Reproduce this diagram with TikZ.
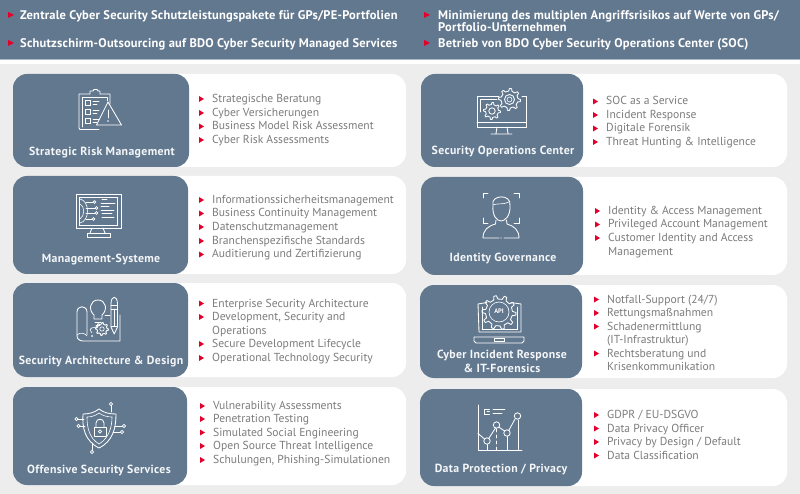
\documentclass[tikz,border=0pt]{standalone}
\usepackage{fontspec}
\setmainfont{PT Sans}
\newfontfamily\hdfont[LetterSpace=1.7]{PT Sans Bold}
\newfontfamily\labfont[LetterSpace=3]{PT Sans Bold}
\definecolor{slate}{HTML}{62788F}
\definecolor{pagebg}{HTML}{EDEDED}
\definecolor{bodytxt}{HTML}{7C7C7C}
\definecolor{redmark}{HTML}{E4002B}
\definecolor{soft}{HTML}{F4F6F8}
\definecolor{bandedge}{HTML}{A9B6C4}
\tikzset{
  x=1pt,y=-1pt,
  lin/.style={draw=white,line width=.85pt,line join=round,line cap=round},
  thinl/.style={draw=white,line width=.6pt,line cap=round},
  txt/.style={anchor=west,inner sep=0pt,text height=9pt,text depth=0pt,font=\fontsize{11.6}{13}\selectfont,text=bodytxt},
  hd/.style={anchor=west,inner sep=0pt,text height=9pt,text depth=0pt,font=\hdfont\fontsize{12.5}{13}\selectfont,text=white},
  lab/.style={anchor=center,inner sep=0pt,text height=9pt,text depth=0pt,font=\labfont\fontsize{11.8}{13}\selectfont,text=soft},
}
\newcommand\tri[3][1]{\fill[redmark] (#2,#3-3) -- (#2+5*#1,#3) -- (#2,#3+3) -- cycle;}
\newcommand\bit[4]{\tri{#2-13}{#3+1}\node[txt] (#1) at (#2,#3) {#4};}
\newcommand\card[6]{%
  \fill[white,rounded corners=14pt] (#1+10,#2) rectangle (#4,#5);
  \fill[slate,rounded corners=14pt] (#1,#2) rectangle (#3,#5);}
\newcommand\cog[5]{% x y outer inner teeth
  \draw[lin] ({#1+#3},#2)
   \foreach \k in {1,...,#5}{ -- ({#1+#3*cos((\k-1)*360/#5+90/#5)},{#2+#3*sin((\k-1)*360/#5+90/#5)})
    -- ({#1+#4*cos((\k-1)*360/#5+135/#5)},{#2+#4*sin((\k-1)*360/#5+135/#5)})
    -- ({#1+#4*cos((\k-1)*360/#5+315/#5)},{#2+#4*sin((\k-1)*360/#5+315/#5)})
    -- ({#1+#3*cos((\k-1)*360/#5+360/#5)},{#2+#3*sin((\k-1)*360/#5+360/#5)}) } -- cycle;}
\begin{document}
\begin{tikzpicture}
\useasboundingbox (0,0) rectangle (800,494);
\fill[white] (0,0) rectangle (800,494);
\fill[pagebg] (0,64) rectangle (800,494);
\fill[slate] (0,0) rectangle (800,59);
\fill[bandedge] (0,59) rectangle (800,60);
% header
\tri[1.2]{8}{15}\node[hd] (h1) at (20,15) {Zentrale Cyber Security Schutzleistungspakete für GPs/PE-Portfolien};
\tri[1.2]{8}{43}\node[hd] (h2) at (20,43) {Schutzschirm-Outsourcing auf BDO Cyber Security Managed Services};
\tri[1.2]{424}{15}\node[hd] (h3) at (438,15) {Minimierung des multiplen Angriffsrisikos auf Werte von GPs/};
\node[hd] (h3b) at (438,27) {Portfolio-Unternehmen};
\tri[1.2]{424}{43}\node[hd] (h4) at (438,43) {Betrieb von BDO Cyber Security Operations Center (SOC)};
% cards
\card{13}{74}{189}{406}{167}{}
\card{13}{176}{188}{406}{274}{}
\card{13}{283}{188}{406}{377}{}
\card{13}{387}{187}{406}{485}{}
\card{421}{74}{583}{787}{167}{}
\card{421}{177}{583}{787}{275}{}
\card{420}{285}{582}{787}{378}{}
\card{420}{389}{582}{787}{486}{}
% labels
\node[lab] (l1) at (102,151) {Strategic Risk Management};
\node[lab] (l2) at (101,258) {Management-Systeme};
\node[lab] (l3) at (101,360) {Security Architecture \& Design};
\node[lab] (l4) at (99,469) {Offensive Security Services};
\node[lab] (l5) at (503,150.5) {Security Operations Center};
\node[lab] (l6) at (503,257) {Identity Governance};
\node[lab] (l7) at (502,354) {Cyber Incident Response};
\node[lab] (l7b) at (502,368) {\& IT-Forensics};
\node[lab] (l8) at (501,468) {Data Protection / Privacy};
% lists left
\bit{a1}{212}{98}{Strategische Beratung}
\bit{a2}{212}{112}{Cyber Versicherungen}
\bit{a3}{212}{125.5}{Business Model Risk Assessment}
\bit{a4}{212}{139}{Cyber Risk Assessments}
\bit{b1}{212}{199}{Informationssicherheitsmanagement}
\bit{b2}{212}{212.5}{Business Continuity Management}
\bit{b3}{212}{226}{Datenschutzmanagement}
\bit{b4}{212}{240}{Branchenspezifische Standards}
\bit{b5}{212}{253.5}{Auditierung und Zertifizierung}
\bit{c1}{212}{302.5}{Enterprise Security Architecture}
\bit{c2}{212}{316}{Development, Security and}
\node[txt] (c2b) at (212,329.5) {Operations};
\bit{c3}{212}{343}{Secure Development Lifecycle}
\bit{c4}{212}{357}{Operational Technology Security}
\bit{d1}{213}{405}{Vulnerability Assessments}
\bit{d2}{213}{418}{Penetration Testing}
\bit{d3}{213}{431.5}{Simulated Social Engineering}
\bit{d4}{213}{445}{Open Source Threat Intelligence}
\bit{d5}{213}{459}{Schulungen, Phishing-Simulationen}
% lists right
\bit{e1}{606}{100.5}{SOC as a Service}
\bit{e2}{606}{114}{Incident Response}
\bit{e3}{606}{127.5}{Digitale Forensik}
\bit{e4}{606}{141}{Threat Hunting \& Intelligence}
\bit{f1}{608}{210}{Identity \& Access Management}
\bit{f2}{608}{223.5}{Privileged Account Management}
\bit{f3}{608}{237}{Customer Identity and Access}
\node[txt] (f3b) at (608,250.5) {Management};
\bit{g1}{607}{298.5}{Notfall-Support (24/7)}
\bit{g2}{607}{312}{Rettungsmaßnahmen}
\bit{g3}{607}{325.5}{Schadenermittlung}
\node[txt] (g3b) at (607,339) {(IT-Infrastruktur)};
\bit{g4}{607}{352.5}{Rechtsberatung und}
\node[txt] (g4b) at (607,366) {Krisenkommunikation};
\bit{k1}{607}{414}{GDPR / EU-DSGVO}
\bit{k2}{607}{427.5}{Data Privacy Officer}
\bit{k3}{607}{441}{Privacy by Design / Default}
\bit{k4}{607}{454.5}{Data Classification}
% icon 1: clipboard and warning
\draw[lin] (99,129.5) -- (80,129.5) -- (79,128) -- (79,94) -- (90,94) (100,94) -- (110,94) -- (110,104);
\draw[lin] (82,127) -- (82,97) -- (107,97) -- (107,101);
\draw[lin] (90,94) -- (90,91) -- (93,91) -- (94,89.5) -- (97,89.5) -- (98,91) -- (100,91) -- (100,94);
\foreach \yy in {100,109,118}{\draw[thinl] (85,\yy) rectangle (90.5,\yy+5.5); \draw[thinl] (93,\yy+1) -- (99,\yy+1) (93,\yy+4) -- (97,\yy+4);}
\draw[lin] (108,102) -- (121.5,125) -- (96.5,125) -- cycle;
\draw[lin] (108,110) -- (108,118); \fill[white] (108,121) circle (.9);
% icon 2: monitor gears
\draw[lin] (499,96) -- (477,96) -- (477,127) -- (526,127) -- (526,96) -- (522,96);
\draw[lin] (480,112) -- (480,99) -- (497,99);
\draw[thinl] (477,122) -- (526,122);
\draw[lin] (497,127) -- (496,133.5) (507,127) -- (508,133.5) (491,134) -- (512,134);
\cog{509.5}{99.5}{11}{8.5}{8}
\draw[lin,fill=slate] (509.5,99.5) circle (5); \draw[thinl] (509.5,99.5) circle (2.5);
\cog{492}{111}{8.5}{6.5}{8}
\draw[lin] (492,111) circle (3.2);
% icon 3: monitor circuit
\draw[lin] (76,194) rectangle (121,228);
\draw[thinl] (79,197) rectangle (117,225);
\draw[lin] (92,228) -- (90,233) (103,228) -- (105,233);
\draw[lin] (87.5,233) rectangle (110,237);
\draw[thinl] (80,199) .. controls (90,201) and (90,221) .. (80,223);
\draw[thinl] (80,204) .. controls (85,206) and (85,216) .. (80,219);
\foreach \yy/\xx in {202/93,208/95,213/95,219/92}{\draw[thinl] (86,\yy) -- (\xx,\yy); \draw[thinl] (\xx+1.5,\yy) circle (1.4);}
\foreach \yy/\xa/\xb in {199/102/107,203/101/115,206/101/109,210/101/114,213/102/112,217/102/114}{\draw[thinl] (\xa,\yy) -- (\xb,\yy);}
% icon 4: identity
\draw[lin] (483,198) -- (483,193) -- (488,193) (514,193) -- (519,193) -- (519,198) (483,218) -- (483,223) -- (488,223) (514,223) -- (519,223) -- (519,218);
\draw[lin] (493,205) .. controls (490,195) and (512,193) .. (510,206) .. controls (510.5,216) and (505,221) .. (501,221) .. controls (497,221) and (492,216) .. (493,205);
\draw[thinl] (493,205) .. controls (497,203) and (503,205) .. (509,202);
\draw[lin] (496,220) -- (495.5,224) .. controls (488,226) and (483,230) .. (483,238) -- (499,238);
\draw[lin] (506.5,220) -- (507,224) .. controls (514,226) and (519,230) .. (519,238) -- (504,238);
\fill[white] (501,238) circle (.6);
% icon 5: architecture
\draw[lin] (87,335) -- (87,312) .. controls (87,305) and (77,305) .. (77,312) -- (77,335) .. controls (77,342) and (83,341) .. (87,341) -- (120,341) -- (120,315);
\draw[thinl] (77,335) .. controls (80,332) and (85,333) .. (87,336);
\draw[lin] (94,315) .. controls (88,310) and (90,300) .. (98,300) .. controls (106,300) and (108,310) .. (102,315) -- (102,319) -- (94,319) -- cycle;
\draw[thinl] (95,322) -- (101,322) (96,325) -- (100,325);
\draw[thinl] (98,326) .. controls (94,329) and (87,326) .. (92,333);
\draw[thinl] (105,315) -- (110,315);
\fill[white] (92,336) circle (1);
\cog{102}{329}{6.5}{5}{8}
\draw[thinl] (102,329) circle (2.2);
\draw[lin] (111,304) .. controls (111,295) and (117.5,295) .. (117.5,304) -- (117.5,327) -- (114.2,334) -- (111,327) -- cycle;
\draw[thinl] (111,305) -- (117.5,305) (111,309) -- (117.5,309) (111,326) -- (117.5,326);
\draw[thinl] (114.2,309) -- (114.2,326);
% icon 6: API laptop
\draw[lin] (482,332) -- (479,332) -- (478,304) -- (487,302.5) (511,302.5) -- (521,304) -- (521,332) -- (517,332) (482,332) -- (517,332);
\draw[thinl] (482,329) -- (517,329) -- (517,307) (482,329) -- (482,307);
\cog{499}{312.5}{17}{13.5}{10}
\draw[thinl] (499,312) circle (10);
\node[inner sep=0pt,font=\fontsize{6.5}{7}\bfseries\selectfont,text=white] (api) at (499,311.5) {API};
\draw[lin] (474,337) -- (524,337) -- (524,341) -- (522,343) -- (476,343) -- (474,341) -- cycle;
\draw[thinl] (494,338) rectangle (504,341);
% icon 7: shield
\draw[lin] (99,409) .. controls (94,413) and (88,414) .. (83,414) .. controls (82,428) and (85,441) .. (99,448) .. controls (113,441) and (116,428) .. (116,414) .. controls (110,414) and (104,413) .. (99,409);
\draw[thinl] (99,413) .. controls (95,416) and (91,417) .. (87,417) .. controls (87,427) and (89,438) .. (99,444) .. controls (109,438) and (112,427) .. (112,417) .. controls (108,417) and (103,416) .. (99,413);
\draw[lin] (94,427) rectangle (106,436.5);
\draw[lin] (96,427) -- (96,423) .. controls (96,418) and (104,418) .. (104,423) -- (104,427);
\draw[thinl] (100,431.5) circle (1.6);
\draw[thinl] (111,405.5) -- (111,412) (78,419) -- (84,419) (80,426) -- (85,426) (122.5,426) -- (115,426) (120.5,432) -- (113,432) (92,450.5) -- (92,443);
\foreach \xx/\yy in {111/404,76.5/419,78.5/426,124/426,122/432,92/452}{\draw[thinl] (\xx,\yy) circle (1.6);}
% icon 8: data chart
\draw[lin] (478,405) -- (478,450) -- (522,450);
\draw[lin] (478,433.5) -- (484.5,439) (489,438) -- (495.5,428) (499.5,427.5) -- (504.5,431) (509,430) -- (515,419);
\draw[lin] (487,444.5) -- (487,450) (507,436.5) -- (507,450) (518,420) -- (518,450);
\draw[thinl,dashed] (496.5,429) -- (496.5,450);
\draw[lin] (487,441) circle (3.2) (496.5,425) circle (3.2) (507,433) circle (3.2) (517.5,416) circle (3.2);
\draw[thinl] (489.5,409) -- (484,409) -- (484,414) -- (489.5,414) (487,411.5) -- (489.5,411.5);
\draw[lin] (493,409.5) -- (505,409.5) (493,413) -- (502,413);
\end{tikzpicture}
\end{document}
